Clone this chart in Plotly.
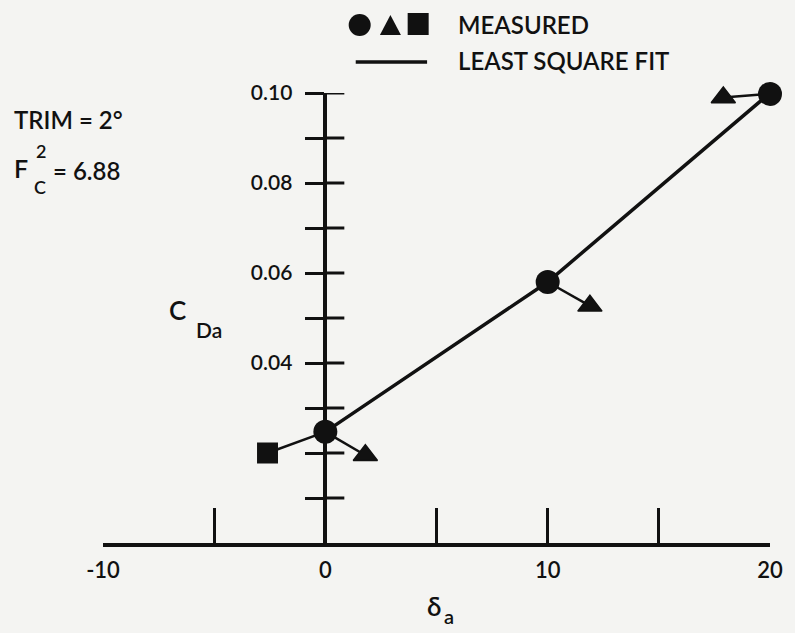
import plotly.graph_objects as go

# ---- data ----
delta_fit = [0, 10, 20]
cd_fit = [0.0247, 0.058, 0.100]

delta_circle = [0, 10, 20]
cd_circle = [0.0247, 0.058, 0.0998]

delta_triangle = [1.8, 11.9, 17.9]
cd_triangle = [0.0195, 0.0527, 0.099]

delta_square = [-2.6]
cd_square = [0.020]

x_tick_vals = [-10, -5, 0, 5, 10, 15, 20]
x_tick_text = ["-10", "", "0", "", "10", "", "20"]
y_tick_vals = [0.01, 0.02, 0.03, 0.04, 0.05, 0.06, 0.07, 0.08, 0.09, 0.10]
y_tick_text = ["", "", "", "0.04", "", "0.06", "", "0.08", "", "0.10"]

# ---- layout geometry ----
W, H = 795, 633
ML, MR, MT, MB = 103, 19, 93, 90
PW, PH = W - ML - MR, H - MT - MB
INK = "#111111"
BG = "#f4f4f2"
FONT = "Lato"
WEIGHT = 600


def px(x):
    return (x - ML) / PW


def py(y):
    return (H - MB - y) / PH


# connector segments: each triangle to its circle, square to first circle
cx, cy = [], []
for i in range(len(delta_triangle)):
    cx += [delta_circle[i], delta_triangle[i], None]
    cy += [cd_circle[i], cd_triangle[i], None]
for i in range(len(delta_square)):
    cx += [delta_square[i], delta_circle[0], None]
    cy += [cd_square[i], cd_circle[0], None]

fig = go.Figure()
fig.add_trace(go.Scatter(x=cx, y=cy, mode="lines",
                         line=dict(color=INK, width=2.5), cliponaxis=False,
                         hoverinfo="skip", showlegend=False))
fig.add_trace(go.Scatter(x=delta_fit, y=cd_fit, mode="lines",
                         line=dict(color=INK, width=3.5), cliponaxis=False,
                         showlegend=False))
fig.add_trace(go.Scatter(x=delta_circle, y=cd_circle, mode="markers",
                         marker=dict(symbol="circle", size=24, color=INK),
                         cliponaxis=False, showlegend=False))
fig.add_trace(go.Scatter(x=delta_triangle, y=cd_triangle, mode="markers",
                         marker=dict(symbol="triangle-up", size=21, color=INK,
                                     line=dict(color=INK, width=1.5)),
                         cliponaxis=False, showlegend=False))
fig.add_trace(go.Scatter(x=delta_square, y=cd_square, mode="markers",
                         marker=dict(symbol="square", size=21, color=INK),
                         cliponaxis=False, showlegend=False))

shapes = []
# right halves of the crossing y ticks
for v in y_tick_vals:
    shapes.append(dict(type="line", xref="x", yref="y", xsizemode="pixel",
                       xanchor=0, x0=0, x1=19, y0=v, y1=v,
                       line=dict(color=INK, width=3)))
# legend symbols
shapes.append(dict(type="circle", xref="paper", yref="paper",
                   xsizemode="pixel", ysizemode="pixel",
                   xanchor=px(362), yanchor=py(25), x0=-11, x1=11, y0=-11, y1=11,
                   fillcolor=INK, line=dict(color=INK, width=0)))
shapes.append(dict(type="path", xref="paper", yref="paper",
                   xsizemode="pixel", ysizemode="pixel",
                   xanchor=px(393), yanchor=py(25),
                   path="M-10.5,-10 L10.5,-10 L0,10 Z",
                   fillcolor=INK, line=dict(color=INK, width=0)))
shapes.append(dict(type="rect", xref="paper", yref="paper",
                   xsizemode="pixel", ysizemode="pixel",
                   xanchor=px(421), yanchor=py(24), x0=-10.5, x1=10.5, y0=-11, y1=11,
                   fillcolor=INK, line=dict(color=INK, width=0)))
shapes.append(dict(type="line", xref="paper", yref="paper",
                   x0=px(358), x1=px(430), y0=py(62), y1=py(62),
                   line=dict(color=INK, width=3.5)))

ann = []


def text(s, x, y, size, xanchor="left"):
    ann.append(dict(text=s, x=px(x), y=py(y), xref="paper", yref="paper",
                    xanchor=xanchor, yanchor="middle", showarrow=False,
                    font=dict(family=FONT, size=size, color=INK, weight=WEIGHT)))


text("MEASURED", 459, 24, 24)
text("LEAST SQUARE FIT", 459, 61, 24)
text("TRIM = 2°", 11, 119, 24)
text("F", 11, 168, 25)
text("2", 33, 151, 18)
text("C", 31, 187, 18)
text("= 6.88", 51, 170, 24)
text("C", 178, 310, 26, "center")
text("Da", 210, 329, 21, "center")
text("δ", 437, 606, 26, "center")
text("a", 452, 616, 20, "center")

fig.update_layout(
    width=W, height=H,
    margin=dict(l=ML, r=MR, t=MT, b=MB),
    paper_bgcolor=BG, plot_bgcolor=BG,
    font=dict(family=FONT, size=21, color=INK, weight=WEIGHT),
    shapes=shapes, annotations=ann, showlegend=False,
    xaxis=dict(range=[-10, 20], showgrid=False, zeroline=False,
               showline=True, linecolor=INK, linewidth=3.5,
               ticks="inside", ticklen=35, tickwidth=3, tickcolor=INK,
               tickvals=x_tick_vals, ticktext=x_tick_text,
               ticklabelstandoff=5,
               tickfont=dict(family=FONT, size=22, color=INK, weight=WEIGHT)),
    yaxis=dict(range=[0, 0.10], showgrid=False, zeroline=False,
               anchor="free", position=1 / 3, side="left",
               showline=True, linecolor=INK, linewidth=3.5,
               ticks="outside", ticklen=19, tickwidth=3, tickcolor=INK,
               tickvals=y_tick_vals, ticktext=y_tick_text,
               ticklabelstandoff=8,
               tickfont=dict(family=FONT, size=21, color=INK, weight=WEIGHT)),
)

fig.write_html("out.html")
